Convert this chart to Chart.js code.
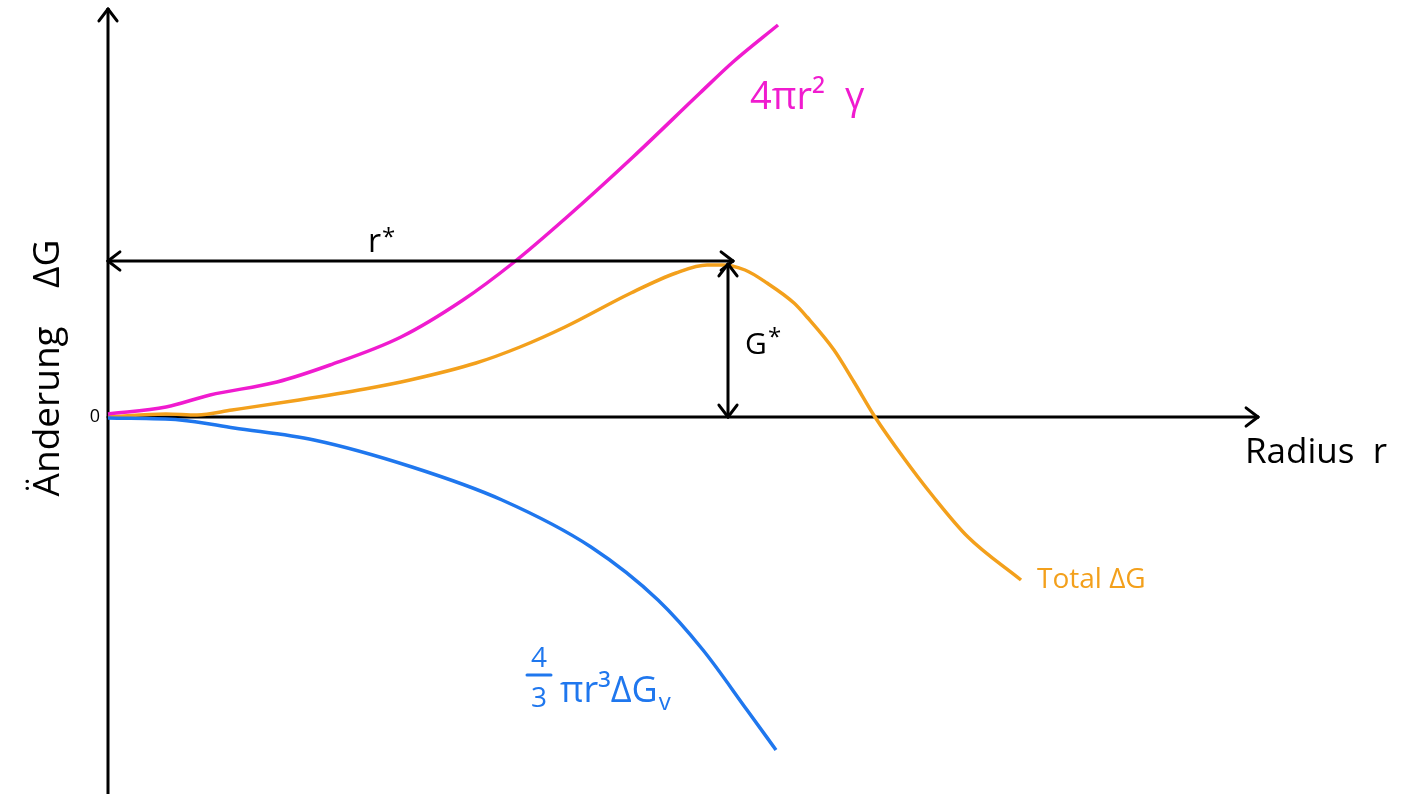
<!DOCTYPE html>
<html>
<head>
<meta charset="utf-8">
<script src="https://cdn.jsdelivr.net/npm/chart.js@4.4.1/dist/chart.umd.min.js"></script>
<style>
  html, body { margin: 0; background: #fff; }
  #wrap { width: 1408px; height: 794px; }
</style>
</head>
<body>
<div id="wrap"><canvas id="myChart"></canvas></div>
<script>
// ================= Data (radius r, change ΔG) =================
const surfaceR = [0, 0.58, 1.02, 1.69, 2.22, 2.93, 3.55, 4.05, 4.59, 5.25, 5.92, 6.25, 6.70];
const surfaceG = [0.03, 0.10, 0.22, 0.35, 0.52, 0.80, 1.17, 1.54, 2.00, 2.60, 3.24, 3.55, 3.92];

const volumeR = [0, 0.72, 1.26, 2.06, 3.04, 3.94, 4.83, 5.50, 5.95, 6.39, 6.68];
const volumeG = [-0.01, -0.03, -0.11, -0.23, -0.50, -0.83, -1.30, -1.83, -2.33, -2.93, -3.33];

const totalR = [0, 0.58, 0.89, 1.24, 1.91, 2.57, 3.02, 3.68, 4.12, 4.57, 5.23, 5.68, 5.99, 6.14,
                6.37, 6.59, 6.86, 6.99, 7.26, 7.46, 7.67, 7.95, 8.24, 8.60, 9.13];
const totalG = [0, 0.03, 0.02, 0.07, 0.17, 0.28, 0.37, 0.54, 0.70, 0.90, 1.24, 1.44, 1.52, 1.52,
                1.47, 1.34, 1.14, 1.00, 0.67, 0.35, 0, -0.40, -0.78, -1.20, -1.63];

// critical radius and barrier height
const rStar = 6.15;
const gStar = 1.54;

const colors = { surface: '#f01bcf', volume: '#1f77ee', total: '#f3a01c' };

const toPoints = (rs, gs) => rs.map((r, i) => ({ x: r, y: gs[i] }));

// ================= Sketch plugin: axes, arrows, labels =================
function seg(ctx, x1, y1, x2, y2) {
  ctx.beginPath();
  ctx.moveTo(x1, y1);
  ctx.lineTo(x2, y2);
  ctx.stroke();
}

function head(ctx, tx, ty, ang) {
  const len = 15, spread = 0.65;
  seg(ctx, tx, ty, tx - len * Math.cos(ang - spread), ty - len * Math.sin(ang - spread));
  seg(ctx, tx, ty, tx - len * Math.cos(ang + spread), ty - len * Math.sin(ang + spread));
}

const sketch = {
  id: 'sketch',
  beforeDatasetsDraw(chart) {
    const { ctx, scales: { x, y } } = chart;
    const x0 = x.getPixelForValue(0), y0 = y.getPixelForValue(0);
    const top = y.getPixelForValue(4.08), right = x.getPixelForValue(11.5);
    ctx.save();
    ctx.strokeStyle = '#000';
    ctx.lineWidth = 3;
    ctx.lineCap = 'round';
    // y axis
    seg(ctx, x0, chart.height, x0, top);
    head(ctx, x0, top, -Math.PI / 2);
    // x axis
    seg(ctx, x0, y0, right, y0);
    head(ctx, right, y0, 0);
    ctx.restore();
  },
  afterDatasetsDraw(chart) {
    const { ctx, scales: { x, y } } = chart;
    const px = v => x.getPixelForValue(v), py = v => y.getPixelForValue(v);
    ctx.save();
    ctx.strokeStyle = '#000';
    ctx.lineWidth = 3;
    ctx.lineCap = 'round';

    // r* double arrow
    const ya = py(gStar + 0.02);
    seg(ctx, px(0), ya, px(rStar + 0.1), ya);
    head(ctx, px(0), ya, Math.PI);
    head(ctx, px(rStar + 0.1), ya, 0);

    // G* double arrow
    const xa = px(rStar + 0.05);
    seg(ctx, xa, py(gStar - 0.01), xa, py(0));
    head(ctx, xa, py(gStar - 0.01), -Math.PI / 2);
    head(ctx, xa, py(0), Math.PI / 2);

    ctx.fillStyle = '#000';
    ctx.textBaseline = 'alphabetic';
    const font = s => '500 ' + s + 'px "Open Sans", "DejaVu Sans", sans-serif';

    // r*
    ctx.font = font(32);
    ctx.fillText('r', px(2.60), py(1.65));
    ctx.font = font(24);
    ctx.fillText('*', px(2.74), py(1.72));

    // G*
    ctx.font = font(30);
    ctx.fillText('G', px(6.37), py(0.63));
    ctx.font = font(24);
    ctx.fillText('*', px(6.60), py(0.72));

    // 0
    ctx.font = font(18);
    ctx.textAlign = 'center';
    ctx.textBaseline = 'middle';
    ctx.fillText('0', px(-0.13), py(0.0));

    // Radius r
    ctx.font = font(35);
    ctx.textAlign = 'left';
    ctx.fillText('Radius  r', px(11.37), py(-0.36));

    // y axis title
    ctx.save();
    ctx.translate(px(-0.60), py(0.49));
    ctx.rotate(-Math.PI / 2);
    ctx.textAlign = 'center';
    ctx.font = font(37);
    ctx.fillText('Änderung    ΔG', 0, 0);
    ctx.restore();

    // Total ΔG
    ctx.fillStyle = colors.total;
    ctx.font = font(28);
    ctx.fillText('Total ΔG', px(9.29), py(-1.63));

    // 4πr²γ
    ctx.fillStyle = colors.surface;
    ctx.textBaseline = 'alphabetic';
    ctx.font = font(38);
    ctx.fillText('4πr²  γ', px(6.42), py(3.08));

    // 4/3 πr³ΔGv
    ctx.fillStyle = colors.volume;
    ctx.strokeStyle = colors.volume;
    ctx.font = font(28);
    ctx.textAlign = 'center';
    ctx.fillText('4', px(4.31), py(-2.50));
    ctx.fillText('3', px(4.31), py(-2.90));
    ctx.lineWidth = 3;
    seg(ctx, px(4.19), py(-2.58), px(4.43), py(-2.58));
    ctx.textAlign = 'left';
    ctx.font = font(36);
    ctx.fillText('πr³ΔG', px(4.52), py(-2.85));
    const w = ctx.measureText('πr³ΔG').width;
    ctx.font = font(24);
    ctx.fillText('v', px(4.52) + w + 1, py(-2.93));

    ctx.restore();
  }
};

// ================= Chart =================
const ctx = document.getElementById('myChart');

new Chart(ctx, {
  type: 'scatter',
  data: {
    datasets: [
      { label: '4πr²γ', data: toPoints(surfaceR, surfaceG), borderColor: colors.surface },
      { label: '4/3 πr³ΔGv', data: toPoints(volumeR, volumeG), borderColor: colors.volume },
      { label: 'Total ΔG', data: toPoints(totalR, totalG), borderColor: colors.total }
    ].map(d => Object.assign(d, {
      showLine: true,
      borderWidth: 3.5,
      pointRadius: 0,
      cubicInterpolationMode: 'monotone',
      fill: false
    }))
  },
  options: {
    responsive: true,
    maintainAspectRatio: false,
    animation: false,
    layout: { padding: 0 },
    plugins: {
      legend: { display: false },
      tooltip: { enabled: false }
    },
    scales: {
      x: { type: 'linear', min: -1.08, max: 13.0, display: false },
      y: { type: 'linear', min: -3.77, max: 4.17, display: false }
    }
  },
  plugins: [sketch]
});
</script>
</body>
</html>
